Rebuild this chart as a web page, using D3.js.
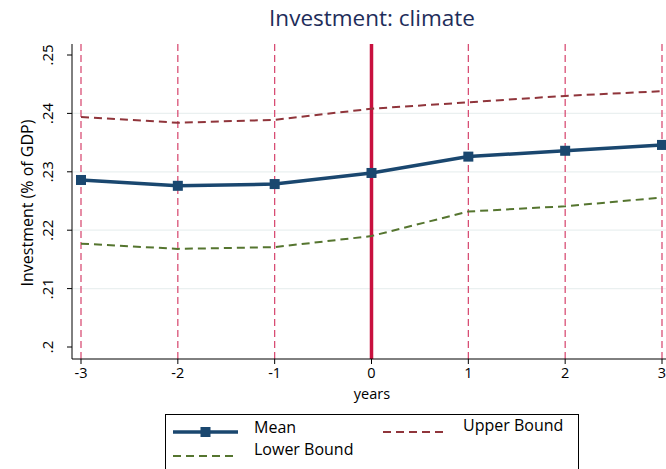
<!DOCTYPE html>
<html>
<head>
<meta charset="utf-8">
<script src="https://cdn.jsdelivr.net/npm/d3@7"></script>
<style>
  html, body { margin: 0; padding: 0; background: #fff; }
  svg { display: block; font-family: "Open Sans", "Noto Sans", sans-serif; }
</style>
</head>
<body>
<svg id="chart" width="666" height="469"></svg>
<script>
// Event-time estimates of climate investment share
const years = [-3, -2, -1, 0, 1, 2, 3];
const meanVals  = [0.2286, 0.2276, 0.2279, 0.2298, 0.2326, 0.2336, 0.2346];
const upperVals = [0.2394, 0.2384, 0.2389, 0.2408, 0.2419, 0.2430, 0.2438];
const lowerVals = [0.2177, 0.2168, 0.2171, 0.2190, 0.2232, 0.2241, 0.2256];
const yTicks = [0.20, 0.21, 0.22, 0.23, 0.24, 0.25];
const yTickLabels = [".2", ".21", ".22", ".23", ".24", ".25"];
const xTickLabels = ["-3", "-2", "-1", "0", "1", "2", "3"];

const svg = d3.select("#chart");
const x = d3.scaleLinear().domain([-3, 3]).range([81, 662]);
const y = d3.scaleLinear().domain([0.20, 0.25]).range([347, 55]);

const plotTop = 44, plotBottom = 359, axisX = 72;

// title
svg.append("text").attr("x", 372).attr("y", 26).attr("text-anchor", "middle")
  .attr("font-size", 22.5).attr("fill", "#1e2d5a").text("Investment: climate");

// horizontal grid
svg.append("g").selectAll("line").data(yTicks.filter(t => t > 0.2 && t < 0.25)).join("line")
  .attr("x1", axisX).attr("x2", 666)
  .attr("y1", d => y(d)).attr("y2", d => y(d))
  .attr("stroke", "#eaf0f0").attr("stroke-width", 1.3);

// vertical reference lines at each year
svg.append("g").selectAll("line").data(years.filter(d => d !== 0)).join("line")
  .attr("x1", d => x(d)).attr("x2", d => x(d))
  .attr("y1", plotTop).attr("y2", plotBottom)
  .attr("stroke", "#d6426b").attr("stroke-width", 1.2)
  .attr("stroke-dasharray", "7,4");
svg.append("line")
  .attr("x1", x(0)).attr("x2", x(0)).attr("y1", plotTop).attr("y2", plotBottom)
  .attr("stroke", "#c8103e").attr("stroke-width", 3.5);

// series lines
const line = vals => d3.line().x((d, i) => x(years[i])).y(d => y(d))(vals);
svg.append("path").attr("d", line(upperVals)).attr("fill", "none")
  .attr("stroke", "#90353b").attr("stroke-width", 2).attr("stroke-dasharray", "8,5");
svg.append("path").attr("d", line(lowerVals)).attr("fill", "none")
  .attr("stroke", "#55752f").attr("stroke-width", 2).attr("stroke-dasharray", "8,5");
svg.append("path").attr("d", line(meanVals)).attr("fill", "none")
  .attr("stroke", "#1a476f").attr("stroke-width", 3.5);
svg.append("g").selectAll("rect").data(meanVals).join("rect")
  .attr("x", (d, i) => x(years[i]) - 5).attr("y", d => y(d) - 5)
  .attr("width", 10).attr("height", 10).attr("fill", "#1a476f");

// y axis
const yAxis = svg.append("g");
yAxis.append("line").attr("x1", axisX).attr("x2", axisX).attr("y1", plotTop).attr("y2", plotBottom)
  .attr("stroke", "#000").attr("stroke-width", 1);
yAxis.selectAll("line.tick").data(yTicks).join("line").attr("class", "tick")
  .attr("x1", axisX - 5).attr("x2", axisX).attr("y1", d => y(d)).attr("y2", d => y(d))
  .attr("stroke", "#000");
yAxis.selectAll("text").data(yTicks).join("text")
  .attr("transform", d => `translate(53,${y(d)}) rotate(-90)`)
  .attr("text-anchor", "middle").attr("font-size", 15).attr("fill", "#000")
  .text((d, i) => yTickLabels[i]);
svg.append("text").attr("transform", "translate(33,203) rotate(-90)")
  .attr("text-anchor", "middle").attr("font-size", 16).text("Investment (% of GDP)");

// x axis
const xAxis = svg.append("g");
xAxis.append("line").attr("x1", axisX).attr("x2", 666).attr("y1", plotBottom).attr("y2", plotBottom)
  .attr("stroke", "#000");
xAxis.selectAll("line.tick").data(years).join("line").attr("class", "tick")
  .attr("x1", d => x(d)).attr("x2", d => x(d)).attr("y1", plotBottom).attr("y2", plotBottom + 5)
  .attr("stroke", "#000");
xAxis.selectAll("text").data(years).join("text")
  .attr("x", d => x(d)).attr("y", 378).attr("text-anchor", "middle")
  .attr("font-size", 14.5).text((d, i) => xTickLabels[i]);
svg.append("text").attr("x", 372).attr("y", 399).attr("text-anchor", "middle")
  .attr("font-size", 14.5).text("years");

// legend
const lg = svg.append("g");
lg.append("rect").attr("x", 165.5).attr("y", 414.5).attr("width", 413).attr("height", 70)
  .attr("fill", "#fff").attr("stroke", "#000");
lg.append("line").attr("x1", 173).attr("x2", 238).attr("y1", 432).attr("y2", 432)
  .attr("stroke", "#1a476f").attr("stroke-width", 3.5);
lg.append("rect").attr("x", 200.5).attr("y", 427).attr("width", 10).attr("height", 10).attr("fill", "#1a476f");
lg.append("text").attr("x", 254).attr("y", 433).attr("font-size", 16).text("Mean");
lg.append("line").attr("x1", 383).attr("x2", 447).attr("y1", 432).attr("y2", 432)
  .attr("stroke", "#90353b").attr("stroke-width", 2).attr("stroke-dasharray", "8,5");
lg.append("text").attr("x", 463).attr("y", 431).attr("font-size", 16).text("Upper Bound");
lg.append("line").attr("x1", 173).attr("x2", 238).attr("y1", 456).attr("y2", 456)
  .attr("stroke", "#55752f").attr("stroke-width", 2).attr("stroke-dasharray", "8,5");
lg.append("text").attr("x", 254).attr("y", 455).attr("font-size", 16).text("Lower Bound");
</script>
</body>
</html>
